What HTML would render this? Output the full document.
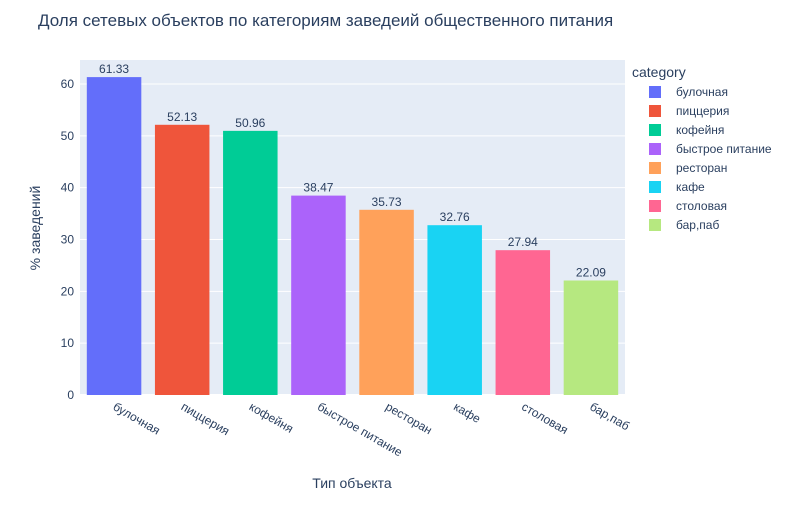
<!DOCTYPE html>
<html><head><meta charset="utf-8"><style>
body{margin:0;background:#fff;font-family:"Liberation Sans","DejaVu Sans",sans-serif;}
svg text{font-family:"Liberation Sans","DejaVu Sans",sans-serif;}
</style></head><body>
<svg id="chart" width="800" height="500" xmlns="http://www.w3.org/2000/svg"></svg>
<script>
const categories = ["булочная","пиццерия","кофейня","быстрое питание","ресторан","кафе","столовая","бар,паб"];
const values = [61.33,52.13,50.96,38.47,35.73,32.76,27.94,22.09];
const colors = ["#636efa","#EF553B","#00cc96","#ab63fa","#FFA15A","#19d3f3","#FF6692","#B6E880"];
const yTicks = [0,10,20,30,40,50,60];

const svg = document.getElementById('chart');
const NS = "http://www.w3.org/2000/svg";
const X0=80, X1=625, Y0=395, YT=60;
const yScale = v => Y0 - v*(395-84)/60;
const band = (X1-X0)/categories.length;
const xCenter = i => X0 + band*(i+0.5);
function mk(tag, attrs, txt){const e=document.createElementNS(NS,tag);for(const k in attrs)e.setAttribute(k,attrs[k]);if(txt!==undefined)e.textContent=txt;svg.appendChild(e);return e;}

let e = mk('rect',{x:X0,y:YT,width:X1-X0,height:Y0-YT,fill:'#e5ecf6'});



yTicks.forEach(t=>{
  const y=yScale(t);
  let g=mk('line',{x1:X0,x2:X1,y1:y,y2:y,stroke:'#fff','stroke-width':t===0?2:1});
  
  
  let l=mk('text',{x:X0-6,y:y+4,'text-anchor':'end','font-size':12,fill:'#2a3f5f'},String(t));
  
  
});

const bw = band*0.8;
categories.forEach((c,i)=>{
  const cx=xCenter(i), y=yScale(values[i]);
  let b=mk('rect',{x:cx-bw/2,y:y,width:bw,height:Y0-y,fill:colors[i]});
  
  
  let v=mk('text',{x:cx,y:y-4,'text-anchor':'middle','font-size':12,fill:'#2a3f5f'},values[i].toFixed(2));
  
  
  let l=mk('text',{x:cx-2,y:Y0+14,'font-size':12,fill:'#2a3f5f',transform:`rotate(30 ${cx-2} ${Y0+14})`},c);
  
  
  const ly=92+i*19;
  let s=mk('rect',{x:649,y:ly-6,width:12,height:12,fill:colors[i]});
  
  
  let lt=mk('text',{x:676,y:ly+4,'font-size':12,fill:'#2a3f5f'},c);
  
  
});

let t=mk('text',{x:38,y:26,'font-size':17,fill:'#2a3f5f'},'Доля сетевых объектов по категориям заведеий общественного питания');


let lg=mk('text',{x:632,y:77,'font-size':14,fill:'#2a3f5f'},'category');


let xt=mk('text',{x:352,y:488,'text-anchor':'middle','font-size':14,fill:'#2a3f5f'},'Тип объекта');


let yt=mk('text',{x:40,y:228,'text-anchor':'middle','font-size':14,fill:'#2a3f5f',transform:'rotate(-90 40 228)'},'% заведений');


</script>
</body></html>
